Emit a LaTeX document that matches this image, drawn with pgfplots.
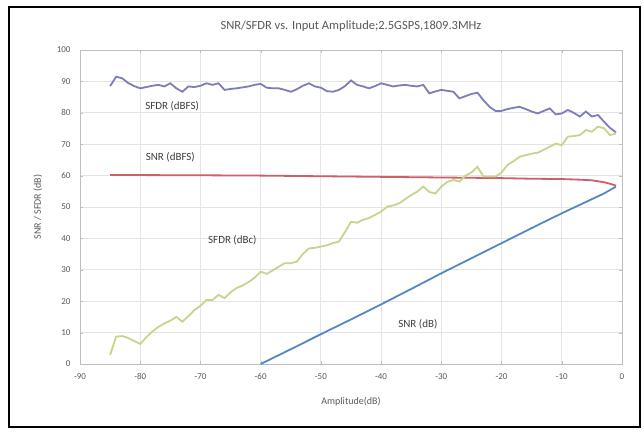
\documentclass[border=0pt]{standalone}
\usepackage{fontspec}
\setmainfont{Carlito}
\usepackage{pgfplots}
\pgfplotsset{compat=1.18}

\definecolor{sfdrfs}{RGB}{125,125,185}
\definecolor{snrfs}{RGB}{205,95,105}
\definecolor{sfdrc}{RGB}{196,214,140}
\definecolor{snrdb}{RGB}{85,135,195}
\definecolor{txt}{RGB}{89,89,89}
\definecolor{gridc}{RGB}{228,228,228}
\definecolor{axc}{RGB}{190,190,190}

\begin{document}
\begin{tikzpicture}
% page extent and outer frame
\path[fill=white] (0pt,0pt) rectangle (644pt,-434pt);
\draw[line width=2pt,black] (9pt,-7pt) rectangle (640pt,-427pt);

\begin{axis}[
  at={(80pt,-364pt)}, anchor=south west,
  scale only axis, width=542pt, height=314pt,
  xmin=-90, xmax=0, ymin=0, ymax=100,
  xtick distance=10, ytick distance=10,
  grid=major,
  major grid style={gridc, line width=0.8pt},
  axis line style={axc, line width=0.9pt},
  major tick length=3pt, tick align=inside,
  tick style={axc},
  /pgf/number format/assume math mode=true,
  tick label style={font=\fontsize{9}{10}\selectfont, text=txt},
  yticklabel style={xshift=-6pt},
  xticklabel style={yshift=-6pt},
  title={SNR/SFDR vs. Input Amplitude;2.5GSPS,1809.3MHz},
  title style={at={(axis description cs:0.5,1)}, anchor=center, yshift=18pt,
    font=\fontsize{12.5}{14}\selectfont, text=txt},
  clip=true,
]

% SFDR (dBFS)
\addplot[sfdrfs, line width=1.8pt] coordinates {
(-85,88.5) (-84,91.5) (-83,91.0) (-82,89.5) (-81,88.5) (-80,87.8) (-79,88.2)
(-78,88.6) (-77,88.9) (-76,88.4) (-75,89.4) (-74,87.8) (-73,86.7) (-72,88.4)
(-71,88.2) (-70,88.6) (-69,89.4) (-68,88.9) (-67,89.4) (-66,87.3) (-65,87.6)
(-64,87.8) (-63,88.1) (-62,88.4) (-61,88.9) (-60,89.2) (-59,88.0) (-58,87.8)
(-57,87.8) (-56,87.3) (-55,86.7) (-54,87.5) (-53,88.6) (-52,89.4) (-51,88.4)
(-50,88.0) (-49,86.9) (-48,86.7) (-47,87.3) (-46,88.5) (-45,90.3) (-44,88.9)
(-43,88.4) (-42,87.8) (-41,88.5) (-40,89.4) (-39,88.9) (-38,88.4) (-37,88.7)
(-36,88.9) (-35,88.6) (-34,88.4) (-33,88.9) (-32,86.2) (-31,86.8) (-30,87.3)
(-29,87.0) (-28,86.7) (-27,84.6) (-26,85.3) (-25,86.0) (-24,86.4) (-23,84.0)
(-22,81.9) (-21,80.6) (-20,80.6) (-19,81.2) (-18,81.6) (-17,81.9) (-16,81.2)
(-15,80.4) (-14,79.8) (-13,80.6) (-12,81.4) (-11,79.5) (-10,79.8) (-9,80.9)
(-8,80.0) (-7,78.8) (-6,80.4) (-5,78.8) (-4,79.3) (-3,77.2) (-2,75.2) (-1,73.8)
};

% SNR (dBFS)
\addplot[snrfs, line width=1.8pt] coordinates {
(-85,60.2) (-70,60.1) (-60,60.0) (-50,59.8) (-40,59.6) (-30,59.4) (-20,59.2)
(-15,59.0) (-10,58.9) (-7,58.7) (-5,58.5) (-3,57.9) (-2,57.4) (-1,56.8)
};

% SFDR (dBc)
\addplot[sfdrc, line width=1.8pt] coordinates {
(-85,2.9) (-84,8.7) (-83,8.9) (-82,8.3) (-81,7.3) (-80,6.4) (-79,8.5)
(-78,10.3) (-77,11.8) (-76,12.9) (-75,13.8) (-74,15.0) (-73,13.5) (-72,15.2)
(-71,17.2) (-70,18.5) (-69,20.4) (-68,20.4) (-67,22.0) (-66,21.0) (-65,22.8)
(-64,24.2) (-63,25.0) (-62,26.1) (-61,27.5) (-60,29.4) (-59,28.7) (-58,29.8)
(-57,31.0) (-56,32.1) (-55,32.1) (-54,32.6) (-53,35.0) (-52,36.8) (-51,37.0)
(-50,37.4) (-49,37.8) (-48,38.5) (-47,39.0) (-46,42.0) (-45,45.3) (-44,45.0)
(-43,45.9) (-42,46.5) (-41,47.5) (-40,48.5) (-39,50.1) (-38,50.5) (-37,51.2)
(-36,52.5) (-35,53.8) (-34,54.9) (-33,56.5) (-32,54.8) (-31,54.3) (-30,56.5)
(-29,58.0) (-28,58.6) (-27,58.1) (-26,60.0) (-25,61.0) (-24,62.8) (-23,59.7)
(-22,59.7) (-21,59.7) (-20,61.0) (-19,63.4) (-18,64.6) (-17,66.0) (-16,66.5)
(-15,67.0) (-14,67.3) (-13,68.2) (-12,69.2) (-11,70.2) (-10,69.7) (-9,72.4)
(-8,72.6) (-7,72.9) (-6,74.5) (-5,74.0) (-4,75.6) (-3,75.1) (-2,72.9) (-1,73.4)
};

% SNR (dB)
\addplot[snrdb, line width=1.8pt] coordinates {
(-60,0.0) (-55,4.7) (-50,9.5) (-45,14.2) (-40,19.0) (-35,23.9) (-30,28.9)
(-25,33.7) (-20,38.5) (-15,43.3) (-10,48.0) (-5,52.5) (-3,54.3) (-1,56.5)
};

\begin{scope}[every node/.style={font=\fontsize{11}{12}\selectfont, text=black!75}]
\node at (axis cs:-74.7,82.2) {SFDR (dBFS)};
\node at (axis cs:-75.0,65.8) {SNR (dBFS)};
\node at (axis cs:-64.7,39.5) {SFDR (dBc)};
\node at (axis cs:-33.9,12.6) {SNR (dB)};
\end{scope}
\end{axis}

% axis titles
\node[font=\fontsize{10}{11}\selectfont, text=txt] at (351pt,-402pt) {Amplitude(dB)};
\node[rotate=90, font=\fontsize{10}{11}\selectfont, text=txt] at (38pt,-207pt) {SNR / SFDR (dB)};
\end{tikzpicture}
\end{document}
